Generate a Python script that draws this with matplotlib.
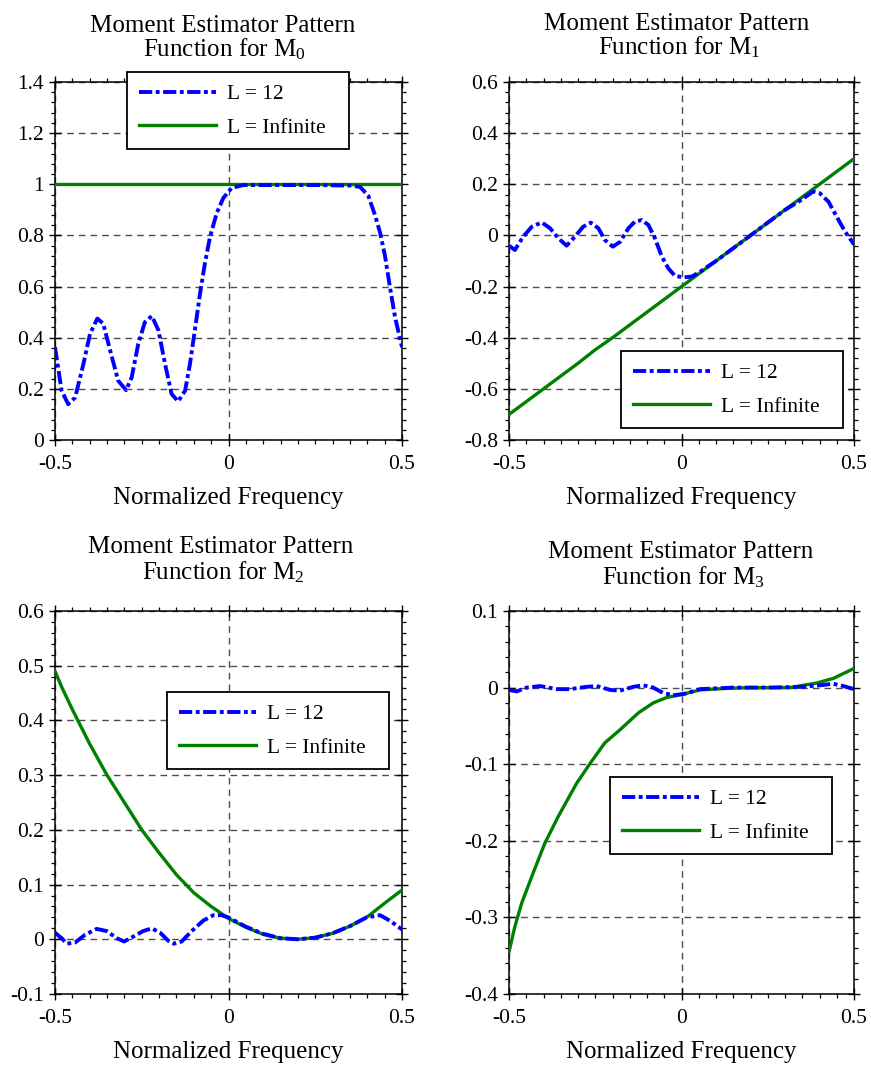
import matplotlib
matplotlib.use("Agg")
import matplotlib.pyplot as plt
from matplotlib.ticker import MultipleLocator, FixedLocator

plt.rcParams['font.family'] = ['Liberation Serif', 'DejaVu Serif']
plt.rcParams['mathtext.fontset'] = 'custom'
plt.rcParams['mathtext.rm'] = 'Liberation Serif'
plt.rcParams['mathtext.it'] = 'Liberation Serif:italic'
plt.rcParams['mathtext.default'] = 'regular'
plt.rcParams['axes.unicode_minus'] = False

# ---------------- data ----------------
series_labels = ["L = 12", "L = Infinite"]
x_ticks = [-0.5, 0, 0.5]
x_ticklabels = ["-0.5", "0", "0.5"]

# M0
m0_l12_x = [-0.5, -0.481, -0.462, -0.442, -0.418, -0.399, -0.378, -0.361, -0.341, -0.318,
            -0.295, -0.279, -0.260, -0.241, -0.221, -0.202, -0.183, -0.164, -0.145, -0.125,
            -0.111, -0.097, -0.082, -0.068, -0.053, -0.034, -0.015, 0.009, 0.043, 0.10,
            0.15, 0.20, 0.25, 0.30, 0.35, 0.379, 0.403, 0.422, 0.437, 0.451, 0.465, 0.480, 0.5]
m0_l12_y = [0.363, 0.193, 0.140, 0.166, 0.298, 0.416, 0.475, 0.455, 0.350, 0.232,
            0.195, 0.245, 0.376, 0.461, 0.485, 0.429, 0.298, 0.180, 0.151, 0.193,
            0.298, 0.429, 0.573, 0.691, 0.796, 0.887, 0.946, 0.986, 0.997, 0.997,
            0.997, 0.997, 0.997, 0.996, 0.995, 0.990, 0.955, 0.880, 0.810, 0.720, 0.600, 0.480, 0.363]
m0_inf_x = [-0.5, 0.5]
m0_inf_y = [1.0, 1.0]
m0_yticks = [0, 0.2, 0.4, 0.6, 0.8, 1, 1.2, 1.4]
m0_yticklabels = ["0", "0.2", "0.4", "0.6", "0.8", "1", "1.2", "1.4"]

# M1
m1_l12_x = [-0.5, -0.483, -0.459, -0.434, -0.405, -0.381, -0.357, -0.333, -0.309, -0.285,
            -0.263, -0.241, -0.222, -0.199, -0.178, -0.154, -0.135, -0.115, -0.096, -0.077,
            -0.057, -0.038, -0.019, 0.005, 0.030, 0.054, 0.08, 0.10, 0.15, 0.20,
            0.25, 0.30, 0.343, 0.382, 0.401, 0.426, 0.450, 0.474, 0.5]
m1_l12_y = [-0.040, -0.057, -0.005, 0.034, 0.051, 0.028, -0.011, -0.040, -0.005, 0.034,
            0.050, 0.028, -0.018, -0.044, -0.025, 0.028, 0.054, 0.060, 0.041, -0.011,
            -0.083, -0.129, -0.158, -0.164, -0.161, -0.142, -0.118, -0.100, -0.050, 0.000,
            0.050, 0.100, 0.135, 0.172, 0.165, 0.132, 0.073, 0.015, -0.035]
m1_inf_x = [-0.5, -0.45, -0.4, -0.35, -0.3, -0.25, -0.2, -0.15, -0.1, -0.05, 0.0,
            0.05, 0.1, 0.15, 0.2, 0.25, 0.3, 0.35, 0.4, 0.45, 0.5]
m1_inf_y = [-0.70, -0.65, -0.60, -0.55, -0.50, -0.447, -0.400, -0.35, -0.30, -0.25, -0.20,
            -0.15, -0.10, -0.05, 0.00, 0.05, 0.10, 0.15, 0.20, 0.25, 0.30]
m1_yticks = [-0.8, -0.6, -0.4, -0.2, 0, 0.2, 0.4, 0.6]
m1_yticklabels = ["-0.8", "-0.6", "-0.4", "-0.2", "0", "0.2", "0.4", "0.6"]

# M2
m2_l12_x = [-0.5, -0.481, -0.466, -0.442, -0.414, -0.380, -0.351, -0.322, -0.301, -0.274,
            -0.246, -0.221, -0.197, -0.173, -0.157, -0.135, -0.106, -0.073, -0.044, -0.020,
            0.0, 0.05, 0.10, 0.15, 0.20, 0.25, 0.30, 0.35, 0.398, 0.437, 0.465, 0.5]
m2_l12_y = [0.012, 0.002, -0.008, -0.006, 0.008, 0.019, 0.015, 0.002, -0.004, 0.005,
            0.015, 0.020, 0.012, -0.003, -0.008, -0.004, 0.015, 0.034, 0.044, 0.044,
            0.040, 0.023, 0.010, 0.002, 0.000, 0.003, 0.011, 0.024, 0.040, 0.044, 0.034, 0.018]
m2_inf_x = [-0.5, -0.48, -0.45, -0.4, -0.35, -0.3, -0.25, -0.2, -0.15, -0.1, -0.05,
            0.0, 0.05, 0.1, 0.15, 0.2, 0.25, 0.3, 0.35, 0.4, 0.45, 0.5]
m2_inf_y = [0.490, 0.460, 0.420, 0.357, 0.300, 0.250, 0.200, 0.158, 0.118, 0.085, 0.060,
            0.038, 0.022, 0.009, 0.002, 0.000, 0.003, 0.011, 0.024, 0.041, 0.066, 0.090]
m2_yticks = [-0.1, 0, 0.1, 0.2, 0.3, 0.4, 0.5, 0.6]
m2_yticklabels = ["-0.1", "0", "0.1", "0.2", "0.3", "0.4", "0.5", "0.6"]

# M3
m3_l12_x = [-0.5, -0.478, -0.449, -0.410, -0.362, -0.323, -0.275, -0.246, -0.207, -0.178,
            -0.140, -0.111, -0.082, -0.053, -0.024, 0.010, 0.054, 0.15, 0.25, 0.35,
            0.401, 0.440, 0.469, 0.5]
m3_l12_y = [-0.003, -0.005, 0.000, 0.002, -0.002, -0.002, 0.001, 0.002, -0.003, -0.004,
            0.001, 0.003, 0.000, -0.007, -0.010, -0.008, -0.002, 0.000, 0.000, 0.001,
            0.003, 0.005, 0.002, -0.002]
m3_inf_x = [-0.5, -0.483, -0.463, -0.430, -0.396, -0.357, -0.304, -0.265, -0.222, -0.178,
            -0.125, -0.082, -0.043, 0.0, 0.054, 0.131, 0.20, 0.314, 0.392, 0.440, 0.5]
m3_inf_y = [-0.345, -0.312, -0.281, -0.242, -0.203, -0.168, -0.125, -0.099, -0.072, -0.055,
            -0.033, -0.020, -0.013, -0.009, -0.003, -0.001, 0.000, 0.000, 0.006, 0.012, 0.025]
m3_yticks = [-0.4, -0.3, -0.2, -0.1, 0, 0.1]
m3_yticklabels = ["-0.4", "-0.3", "-0.2", "-0.1", "0", "0.1"]

titles_line1 = ["Moment Estimator Pattern"] * 4
titles_line2 = ["Function for M$_0$", "Function for M$_1$", "Function for M$_2$", "Function for M$_3$"]
xlabel_text = "Normalized Frequency"

# ---------------- layout ----------------
W, H = 871, 1066
fig = plt.figure(figsize=(W / 100, H / 100), dpi=100)

def rect(l, r, t, b):
    return [l / W, 1 - b / H, (r - l) / W, (b - t) / H]

panels = [
    dict(rect=rect(55, 402, 82, 440), l12=(m0_l12_x, m0_l12_y), inf=(m0_inf_x, m0_inf_y),
         yt=m0_yticks, ytl=m0_yticklabels, ylim=(0, 1.4), yminor=0.04,
         leg=(126.7, 73.3, 222.6), title=((222.3, 31.5), (225, 56))),
    dict(rect=rect(509, 854, 82, 440), l12=(m1_l12_x, m1_l12_y), inf=(m1_inf_x, m1_inf_y),
         yt=m1_yticks, ytl=m1_yticklabels, ylim=(-0.8, 0.6), yminor=0.04,
         leg=(620.7, 352.3, 222.6), title=((676.3, 30), (679, 54.5))),
    dict(rect=rect(55, 402, 611, 994), l12=(m2_l12_x, m2_l12_y), inf=(m2_inf_x, m2_inf_y),
         yt=m2_yticks, ytl=m2_yticklabels, ylim=(-0.1, 0.6), yminor=0.02,
         leg=(166.7, 693.3, 222.6), title=((220.5, 553), (223.3, 579))),
    dict(rect=rect(509, 854, 611, 994), l12=(m3_l12_x, m3_l12_y), inf=(m3_inf_x, m3_inf_y),
         yt=m3_yticks, ytl=m3_yticklabels, ylim=(-0.4, 0.1), yminor=0.02,
         leg=(610, 778.3, 222.3), title=((680.3, 558), (683.3, 584))),
]

blue_dash = (0, (3.4, 0.9, 1.0, 0.9))
grid_kw = dict(color='0.3', linestyle=(0, (4.8, 3.6)), linewidth=1.0)

for i, p in enumerate(panels):
    ax = fig.add_axes(p['rect'])
    ax.plot(p['l12'][0], p['l12'][1], color='#0000FF', lw=2.8, linestyle=blue_dash,
            label=series_labels[0], zorder=3)
    ax.plot(p['inf'][0], p['inf'][1], color='#008000', lw=2.4, linestyle='-',
            label=series_labels[1], zorder=2.9)
    ax.set_xlim(-0.5, 0.5)
    ax.set_ylim(*p['ylim'])
    ax.xaxis.set_major_locator(FixedLocator(x_ticks))
    ax.set_xticklabels(x_ticklabels)
    ax.xaxis.set_minor_locator(MultipleLocator(0.05))
    ax.yaxis.set_major_locator(FixedLocator(p['yt']))
    ax.set_yticklabels(p['ytl'])
    ax.yaxis.set_minor_locator(MultipleLocator(p['yminor']))
    ax.tick_params(which='major', direction='inout', length=8, width=1.0,
                   top=True, right=True, labelsize=15.5, colors='black')
    ax.tick_params(axis='x', which='major', pad=7)
    ax.tick_params(axis='y', which='major', pad=4)
    ax.tick_params(which='minor', direction='out', length=3, width=0.9, top=True, right=True)
    for s in ax.spines.values():
        s.set_linewidth(1.1)
        s.set_color('black')
    ax.grid(True, which='major', **grid_kw)
    ax.set_axisbelow(True)
    ax.set_xlabel(xlabel_text, fontsize=18, labelpad=9)

    lx, ly, lw_ = p['leg']
    leg = ax.legend(loc='upper left', bbox_to_anchor=(lx / W, 1 - ly / H, lw_ / W, 0.001),
                    bbox_transform=fig.transFigure, mode='expand', borderaxespad=0,
                    fontsize=15.5, handlelength=3.6, handletextpad=0.5, labelspacing=0.62,
                    borderpad=0.55, fancybox=False, framealpha=1, edgecolor='black')
    leg.get_frame().set_linewidth(1.3)

    (t1x, t1y), (t2x, t2y) = p['title']
    fig.text(t1x / W, 1 - t1y / H, titles_line1[i], ha='center', va='baseline', fontsize=18)
    fig.text(t2x / W, 1 - t2y / H, titles_line2[i], ha='center', va='baseline', fontsize=18)

fig.savefig("out.png", dpi=100)
